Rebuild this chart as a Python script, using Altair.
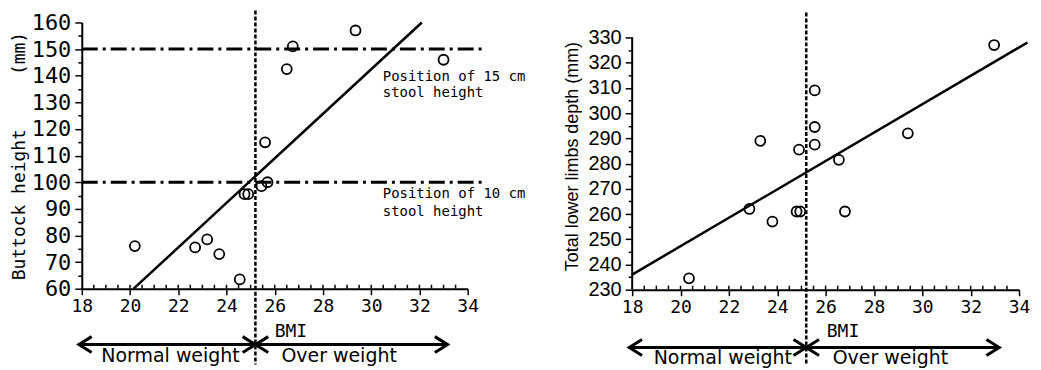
import altair as alt
import pandas as pd
import numpy as np

# ---------------- data ----------------
left_bmi = [20.2, 22.7, 23.2, 23.7, 24.55, 24.75, 24.9, 25.45, 25.7, 25.6, 26.5, 26.75, 29.35, 33.0]
left_height = [76, 75.5, 78.5, 73, 63.5, 95.5, 95.5, 98.5, 100, 115, 142.5, 151, 157, 146]

right_bmi = [20.35, 22.85, 23.3, 23.8, 24.8, 24.95, 24.9, 25.55, 25.55, 25.55, 26.55, 26.8, 29.4, 32.97]
right_depth = [234.5, 262, 289, 257, 261, 261, 285.5, 309, 294.5, 287.5, 281.5, 261, 292, 327]

left_fit_bmi = [20.15, 32.1]
left_fit_height = [60, 160]
right_fit_bmi = [18, 34.35]
right_fit_depth = [236, 328]

x_ticks = [18, 20, 22, 24, 26, 28, 30, 32, 34]
left_y_ticks = list(range(60, 161, 5))
right_y_ticks = list(range(230, 331, 5))
bmi_cutoff = 25.2
stool_heights = [150, 100]
stool_text = ["Position of 15 cm", "stool height", "Position of 10 cm", "stool height"]
weight_classes = ["Normal weight", "Over weight"]

MONO = "DejaVu Sans Mono"
SANS = "Liberation Sans"
NB = "\u00a0"

XS = alt.Scale(domain=[18, 34], zero=False, nice=False)
LYS = alt.Scale(domain=[60, 160], zero=False, nice=False)
RYS = alt.Scale(domain=[230, 335.93], zero=False, nice=False)

x_axis = alt.Axis(values=x_ticks, labelFont=MONO, labelFontSize=18, labelColor="black",
                  labelPadding=3, tickSize=6, tickWidth=1.5, tickColor="black",
                  domainColor="black", domainWidth=2, grid=False, labelOverlap=False,
                  labelFlush=False)

major_tick = {"condition": {"test": "datum.value % 10 === 0", "value": 7}, "value": 4}
label_expr = "datum.value % 10 === 0 ? datum.label : ''"

left_y_axis = alt.Axis(values=left_y_ticks, labelExpr=label_expr, tickSize=major_tick,
                       labelFont=MONO, labelFontSize=22, labelColor="black", labelPadding=4,
                       tickWidth=1.5, tickColor="black", domainColor="black", domainWidth=2,
                       grid=False, labelOverlap=False, titleFont=MONO, titleFontSize=18,
                       titleFontWeight="normal", titleColor="black", titlePadding=3)

right_y_axis = alt.Axis(values=right_y_ticks, labelExpr=label_expr, tickSize=major_tick,
                        labelFont=SANS, labelFontSize=20, labelColor="black", labelPadding=4,
                        tickWidth=1.5, tickColor="black", domain=False,
                        grid=False, labelOverlap=False, titleFont=SANS, titleFontSize=18,
                        titleFontWeight="normal", titleColor="black", titlePadding=6)

ARROW_L = "M 1.6 -1 L 0 0 L 1.6 1"
ARROW_R = "M -1.6 -1 L 0 0 L -1.6 1"


def X(field):
    return alt.X(field, type="quantitative", scale=XS, axis=x_axis, title=None)


def make_y(scale, axis, title):
    def Y(field):
        return alt.Y(field, type="quantitative", scale=scale, axis=axis, title=title)
    return Y


def panel(bmi, vals, fit_x, fit_y, Y, geom, extra=None, width=387, height=267):
    pts = alt.Chart(pd.DataFrame({"bmi": bmi, "val": vals})).mark_point(
        shape="circle", filled=False, size=100, strokeWidth=1.8, color="black", opacity=1
    ).encode(x=X("bmi"), y=Y("val"))

    fit = alt.Chart(pd.DataFrame({"bmi": fit_x, "val": fit_y})).mark_line(
        color="black", strokeWidth=2.5
    ).encode(x=X("bmi"), y=Y("val"))

    cut = alt.Chart(pd.DataFrame({"bmi": [bmi_cutoff], "val": [geom["cut_top"]], "y2": [geom["cut_bot"]]})).mark_rule(
        color="black", strokeWidth=2.5, strokeDash=[4, 2]
    ).encode(x=X("bmi"), y=Y("val"), y2="y2")

    minor = alt.Chart(pd.DataFrame({"bmi": list(np.arange(18.5, 34.0, 0.5)),
                                    "val": geom["ymin"], "y2": geom["ymin"] + geom["tick"]})).mark_rule(
        color="black", strokeWidth=1.5
    ).encode(x=X("bmi"), y=Y("val"), y2="y2")

    bmi_lbl = alt.Chart(pd.DataFrame({"bmi": [geom["bmi_x"]], "val": [geom["bmi_y"]], "t": ["BMI"]})).mark_text(
        align="left", baseline="middle", font=MONO, fontSize=18, color="black"
    ).encode(x=X("bmi"), y=Y("val"), text="t:N")

    shafts = alt.Chart(pd.DataFrame({"bmi": [geom["arrow_l"], bmi_cutoff], "x2": [bmi_cutoff, geom["arrow_r"]],
                                     "val": [geom["arrow_y"]] * 2})).mark_rule(
        color="black", strokeWidth=3
    ).encode(x=X("bmi"), x2="x2", y=Y("val"))

    heads = alt.Chart(pd.DataFrame({"bmi": [geom["arrow_l"], bmi_cutoff, bmi_cutoff, geom["arrow_r"]],
                                    "val": [geom["arrow_y"]] * 4, "dir": ["L", "R", "L", "R"]})).mark_point(
        filled=False, size=256, strokeWidth=3, color="black", opacity=1
    ).encode(x=X("bmi"), y=Y("val"),
             shape=alt.Shape("dir:N", scale=alt.Scale(domain=["L", "R"], range=[ARROW_L, ARROW_R]), legend=None))

    classes = alt.Chart(pd.DataFrame({"bmi": geom["class_x"], "val": [geom["class_y"]] * 2, "t": weight_classes})).mark_text(
        align="center", baseline="middle", font="DejaVu Sans", fontSize=19, color="black"
    ).encode(x=X("bmi"), y=Y("val"), text="t:N")

    layers = [pts, fit, cut, minor, bmi_lbl, shafts, heads, classes]
    if extra:
        layers += extra
    return alt.layer(*layers).properties(width=width, height=height)


left_geom = dict(cut_top=164.5, cut_bot=31.5, ymin=60, tick=1.5, bmi_x=26.0, bmi_y=43.9,
                 arrow_l=17.88, arrow_r=33.17, arrow_y=39.0, class_x=[21.68, 28.67], class_y=34.9)
right_geom = dict(cut_top=339.9, cut_bot=200.5, ymin=230, tick=1.6, bmi_x=26.05, bmi_y=213.4,
                  arrow_l=17.88, arrow_r=33.18, arrow_y=207.1, class_x=[21.75, 28.68], class_y=203.1)

YL = make_y(LYS, left_y_axis, "Buttock height" + NB * 5 + "(mm)")
YR = make_y(RYS, right_y_axis, "Total lower limbs depth (mm)")

stool_lines = alt.Chart(pd.DataFrame({"bmi": [18, 18], "x2": [34.6, 34.6], "val": stool_heights})).mark_rule(
    color="black", strokeWidth=3, strokeDash=[16, 5, 3, 5]
).encode(x=X("bmi"), x2="x2", y=YL("val"))

stool_lbl = alt.Chart(pd.DataFrame({"bmi": [30.48] * 4, "val": [139.4, 133.4, 95.6, 88.8], "t": stool_text})).mark_text(
    align="left", baseline="middle", font=MONO, fontSize=14, color="black"
).encode(x=X("bmi"), y=YL("val"), text="t:N")

right_axis_line = alt.Chart(pd.DataFrame({"bmi": [18], "val": [230], "y2": [330]})).mark_rule(
    color="black", strokeWidth=2
).encode(x=X("bmi"), y=YR("val"), y2="y2")

left = panel(left_bmi, left_height, left_fit_bmi, left_fit_height, YL, left_geom,
             extra=[stool_lines, stool_lbl], width=387, height=267)
right = panel(right_bmi, right_depth, right_fit_bmi, right_fit_depth, YR, right_geom,
              extra=[right_axis_line], width=388, height=268)

chart = alt.hconcat(left, right, spacing=165).properties(
    bounds="flush", padding={"left": 2, "top": 0, "right": 0, "bottom": 0}, background="white"
).configure_view(strokeWidth=0)

chart.save("out.html", embed_options={"renderer": "svg", "actions": False})
